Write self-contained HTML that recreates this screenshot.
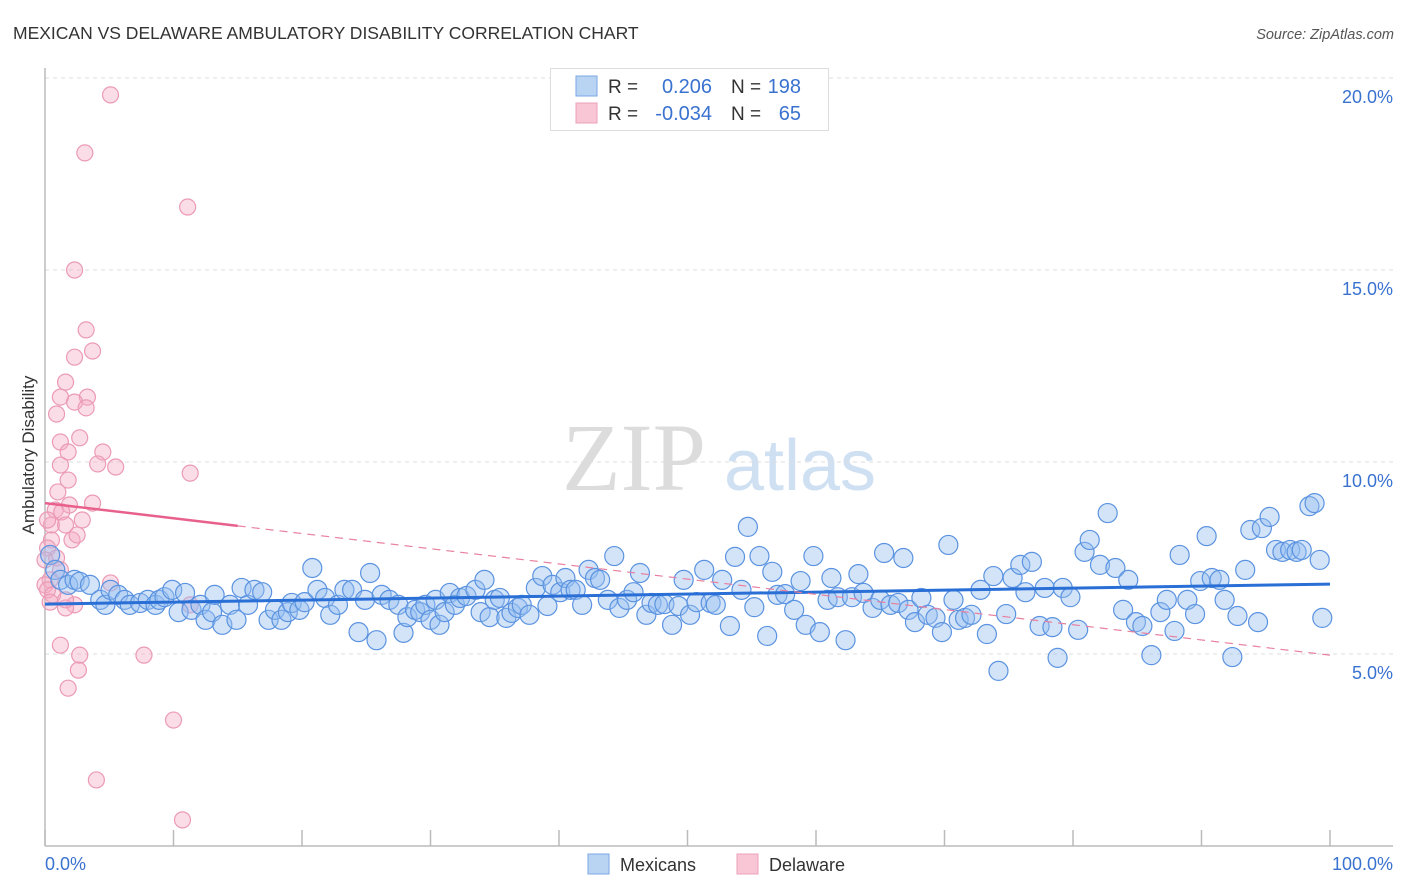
<!DOCTYPE html>
<html><head><meta charset="utf-8">
<style>
body{margin:0;background:#fff;font-family:"Liberation Sans",sans-serif;}
#wrap{position:relative;width:1406px;height:892px;overflow:hidden;}
</style></head>
<body>
<div id="wrap">
<svg id="chart" width="1406" height="892" xmlns="http://www.w3.org/2000/svg">
  <text x="13" y="39" font-size="17.5" fill="#333">MEXICAN VS DELAWARE AMBULATORY DISABILITY CORRELATION CHART</text>
  <text x="1394" y="39" font-size="14.5" fill="#555" font-style="italic" text-anchor="end">Source: ZipAtlas.com</text>
  <g>
    <text x="634" y="490" font-size="96" fill="#dcdcdc" font-family="Liberation Serif,serif" text-anchor="middle">ZIP</text>
    <text x="800" y="490" font-size="72" fill="#cfe0f3" text-anchor="middle">atlas</text>
  </g>
  <g id="grid"></g>
  <g id="yticks"></g>
  <g id="xaxis"></g>
  <text transform="translate(34,455) rotate(-90)" font-size="17" fill="#333" text-anchor="middle">Ambulatory Disability</text>
  <g id="pink"></g>
  <g id="blue"></g>
  <g id="trends"></g>
  <g>
    <rect x="550.5" y="68.5" width="278" height="62" fill="#fff" stroke="#ddd"/>
    <rect x="576" y="76" width="21" height="20" fill="#b9d3f3" stroke="#7aa7e6"/>
    <rect x="576" y="103" width="21" height="20" fill="#f9c6d5" stroke="#eda0b9"/>
    <g font-size="19" fill="#333">
      <text x="608" y="93">R =</text><text x="731" y="93">N =</text>
      <text x="608" y="120">R =</text><text x="731" y="120">N =</text>
    </g>
    <g font-size="20" fill="#3a72d0" text-anchor="end">
      <text x="712" y="93">0.206</text>
      <text x="801" y="93">198</text>
      <text x="712" y="120">-0.034</text>
      <text x="801" y="120">65</text>
    </g>
  </g>
  <g>
    <rect x="588" y="854" width="21" height="20" fill="#b9d3f3" stroke="#7aa7e6"/>
    <text x="620" y="871" font-size="18" fill="#333">Mexicans</text>
    <rect x="737" y="854" width="21" height="20" fill="#f9c6d5" stroke="#eda0b9"/>
    <text x="769" y="871" font-size="18" fill="#333">Delaware</text>
  </g>
</svg>
</div>
<script>
const yTicks=[5,10,15,20];
const yTickLabels=["5.0%","10.0%","15.0%","20.0%"];
const xTicks=[0,10,20,30,40,50,60,70,80,90,100];
const xEndLabels=["0.0%","100.0%"];
const blueX=[0.4,0.8,1.2,1.8,2.3,2.7,3.5,4.3,4.7,5.1,5.7,6.2,6.6,7.4,8.0,8.6,8.9,9.3,9.9,10.4,10.9,11.4,12.1,12.5,13.0,13.2,13.8,14.4,14.9,15.3,15.8,16.3,16.9,17.4,17.9,18.4,18.9,19.2,19.8,20.2,20.8,21.2,21.8,22.2,22.8,23.3,23.9,24.4,24.9,25.3,25.8,26.2,26.8,27.5,27.9,28.2,28.8,29.2,29.6,30.0,30.4,30.7,31.1,31.5,31.9,32.3,32.8,33.5,33.9,34.2,34.6,35.0,35.4,35.9,36.3,36.8,37.1,37.7,38.2,38.7,39.1,39.5,40.1,40.5,40.9,41.3,41.8,42.3,42.8,43.2,43.8,44.3,44.7,45.3,45.8,46.3,46.8,47.2,47.7,48.2,48.8,49.3,49.7,50.2,50.7,51.3,51.8,52.2,52.7,53.3,53.7,54.2,54.7,55.2,55.6,56.2,56.6,57.0,57.6,58.3,58.8,59.2,59.8,60.3,60.9,61.2,61.7,62.3,62.8,63.3,63.7,64.4,65.0,65.3,65.8,66.4,66.8,67.2,67.7,68.2,68.7,69.3,69.8,70.3,70.7,71.1,71.6,72.1,72.8,73.3,73.8,74.2,74.8,75.3,75.9,76.3,76.8,77.4,77.8,78.4,78.8,79.2,79.8,80.4,80.9,81.3,82.1,82.7,83.3,83.9,84.3,84.9,85.4,86.1,86.8,87.3,87.9,88.3,88.9,89.5,89.9,90.4,90.8,91.4,91.8,92.4,92.8,93.4,93.8,94.4,94.7,95.3,95.8,96.3,96.9,97.4,97.8,98.4,98.8,99.2,99.4];
const blueY=[7.58,7.19,6.93,6.80,6.93,6.88,6.80,6.41,6.28,6.67,6.54,6.41,6.28,6.33,6.41,6.28,6.41,6.48,6.67,6.09,6.59,6.15,6.28,5.89,6.09,6.54,5.76,6.28,5.89,6.72,6.28,6.67,6.61,5.89,6.15,5.89,6.09,6.33,6.15,6.35,7.24,6.67,6.46,6.02,6.28,6.67,6.67,5.57,6.41,7.11,5.36,6.54,6.41,6.28,5.55,5.96,6.15,6.09,6.28,5.89,6.41,5.76,6.09,6.59,6.28,6.46,6.51,6.67,6.09,6.93,5.96,6.41,6.46,5.94,6.07,6.20,6.28,6.02,6.72,7.03,6.25,6.80,6.61,6.98,6.67,6.67,6.28,7.19,6.98,6.93,6.41,7.55,6.20,6.41,6.61,7.11,6.02,6.33,6.28,6.30,5.76,6.25,6.93,6.02,6.35,7.19,6.33,6.28,6.93,5.73,7.53,6.67,8.31,6.22,7.55,5.47,7.14,6.54,6.56,6.15,6.90,5.76,7.55,5.57,6.41,6.98,6.48,5.36,6.48,7.08,6.59,6.20,6.41,7.63,6.28,6.33,7.50,6.15,5.83,6.46,6.02,5.94,5.57,7.84,6.41,5.89,5.94,6.02,6.67,5.52,7.03,4.56,6.04,6.98,7.32,6.61,7.40,5.73,6.72,5.70,4.90,6.72,6.48,5.63,7.66,7.97,7.32,8.67,7.24,6.15,6.93,5.83,5.73,4.97,6.09,6.41,5.60,7.58,6.41,6.04,6.90,8.07,6.98,6.93,6.41,4.92,5.99,7.19,8.23,5.83,8.28,8.57,7.71,7.66,7.71,7.66,7.71,8.85,8.93,7.45,5.94];
const pinkX=[5.1,3.1,11.1,2.3,3.2,3.7,2.3,1.6,1.2,3.3,2.3,3.2,0.9,1.2,2.7,4.5,1.8,5.5,1.2,4.1,11.3,1.8,1.0,3.7,1.9,0.8,1.3,0.5,2.9,1.6,2.1,0.5,0.2,0.9,1.2,0.4,0.0,0.2,0.6,5.1,2.3,1.6,11.3,1.2,2.7,2.6,1.8,7.7,10.0,4.0,10.7,0.4,2.5,0.0,0.2,1.6];
const pinkY=[19.56,18.05,16.64,15.0,13.44,12.89,12.73,12.08,11.69,11.69,11.56,11.41,11.25,10.52,10.63,10.26,10.26,9.87,9.92,9.95,9.71,9.53,9.22,8.93,8.88,8.75,8.70,8.36,8.49,8.36,7.97,7.97,7.76,7.50,7.19,6.93,6.80,6.67,6.54,6.85,6.28,6.20,6.28,5.23,4.97,4.58,4.11,4.97,3.28,1.72,0.68,6.35,8.10,7.45,8.49,6.41];
const blueTrend=[6.30,6.82];
const pinkTrend=[8.93,4.97];
const pinkSolidEnd=15;

const NS="http://www.w3.org/2000/svg";
const X0=45,X1=1330,YB=846,YPX=38.4;
function sx(v){return X0+(X1-X0)*v/100;}
function sy(v){return YB-v*YPX;}
function mk(tag,attrs,parent){const e=document.createElementNS(NS,tag);for(const k in attrs)e.setAttribute(k,attrs[k]);parent.appendChild(e);return e;}
const grid=document.getElementById('grid'),yt=document.getElementById('yticks'),xa=document.getElementById('xaxis');
yTicks.forEach((t,i)=>{
  const l=mk('line',{x1:X0,x2:1393,y1:sy(t),y2:sy(t),stroke:'#dcdcdc','stroke-dasharray':'4,4'},grid);
  
  
  const tx=mk('text',{x:1393,y:sy(t)+25,'font-size':18,fill:'#3a72d0','text-anchor':'end'},yt);
  tx.textContent=yTickLabels[i];
  
  
});
const ax=mk('line',{x1:X0,x2:X0,y1:68,y2:YB,stroke:'#bbb','stroke-width':1.5},xa);


const bx=mk('line',{x1:X0,x2:1393,y1:YB,y2:YB,stroke:'#bbb','stroke-width':1.5},xa);


xTicks.forEach(t=>{
  const tk=mk('line',{x1:sx(t),x2:sx(t),y1:YB-16,y2:YB,stroke:'#bbb','stroke-width':1.5},xa);
  
  
});
const xl0=mk('text',{x:X0,y:870,'font-size':18,fill:'#3a72d0'},xa);xl0.textContent=xEndLabels[0];


const xl1=mk('text',{x:1393,y:870,'font-size':18,fill:'#3a72d0','text-anchor':'end'},xa);xl1.textContent=xEndLabels[1];



const pg=document.getElementById('pink');
pinkX.forEach((x,i)=>{
  const c=mk('circle',{cx:sx(x),cy:sy(pinkY[i]),r:8,fill:'rgba(246,170,196,0.4)',stroke:'#eb9ab5','stroke-width':1.2},pg);
  
  
});
const bg=document.getElementById('blue');
blueX.forEach((x,i)=>{
  const c=mk('circle',{cx:sx(x),cy:sy(blueY[i]),r:9.5,fill:'rgba(150,190,240,0.42)',stroke:'#5b93e0','stroke-width':1.2},bg);
  
  
});
const tg=document.getElementById('trends');
const bt=mk('line',{x1:sx(0),y1:sy(blueTrend[0]),x2:sx(100),y2:sy(blueTrend[1]),stroke:'#2a6fd6','stroke-width':3},tg);


const pAt=v=>pinkTrend[0]+(pinkTrend[1]-pinkTrend[0])*v/100;
const ps=mk('line',{x1:sx(0),y1:sy(pinkTrend[0]),x2:sx(pinkSolidEnd),y2:sy(pAt(pinkSolidEnd)),stroke:'#e8608c','stroke-width':2.5},tg);


const pd=mk('line',{x1:sx(pinkSolidEnd),y1:sy(pAt(pinkSolidEnd)),x2:sx(100),y2:sy(pinkTrend[1]),stroke:'#e8809f','stroke-width':1.2,'stroke-dasharray':'8,6'},tg);


</script>
</body></html>
